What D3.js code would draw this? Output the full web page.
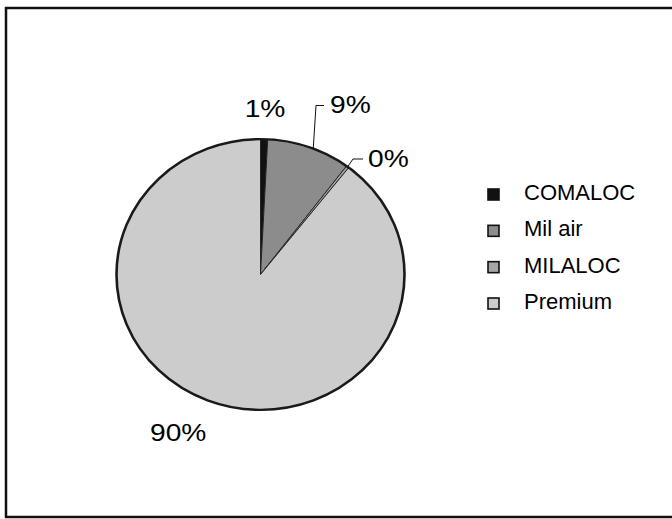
<!DOCTYPE html>
<html>
<head>
<meta charset="utf-8">
<script src="https://cdn.jsdelivr.net/npm/d3@7"></script>
<style>
  body { margin: 0; background: #fff; }
  text { font-family: "Liberation Sans", Arial, sans-serif; fill: #000; }
</style>
</head>
<body>
<svg id="chart" width="672" height="519"></svg>
<script>
// data
var categories = ["COMALOC", "Mil air", "MILALOC", "Premium"];
var shares = [0.8, 9.4, 0.3, 89.5];
var labels = ["1%", "9%", "0%", "90%"];
var colors = ["#111111", "#8c8c8c", "#a6a6a6", "#cccccc"];

var svg = d3.select("#chart");

// outer frame
svg.append("rect")
  .attr("x", 6).attr("y", 8)
  .attr("width", 700).attr("height", 509)
  .attr("fill", "none")
  .attr("stroke", "#111")
  .attr("stroke-width", 2.5);

var cx = 260.5, cy = 274.5, r = 144, squash = 0.94;

var pie = d3.pie().sort(null).value(function(d) { return d; });
var arcs = pie(shares);
var arc = d3.arc().innerRadius(0).outerRadius(r);

var g = svg.append("g")
  .attr("transform", `translate(${cx},${cy}) scale(1,${squash})`);

g.selectAll(".slice")
  .data(arcs)
  .enter()
  .append("path")
  .attr("class", "slice")
  .attr("d", arc)
  .attr("fill", function(d, i) { return colors[i]; })
  .attr("stroke", "#222")
  .attr("stroke-width", 1)
  .attr("stroke-linejoin", "round");

g.append("circle")
  .attr("r", r)
  .attr("fill", "none")
  .attr("stroke", "#1a1a1a")
  .attr("stroke-width", 2.6);

// point on the rim for a slice, at fraction t across it
function rim(d, t) {
  var a = d.startAngle + (d.endAngle - d.startAngle) * t;
  return [cx + Math.sin(a) * r, cy - Math.cos(a) * r * squash];
}

// leader lines for the two small labels
var p9 = rim(arcs[1], 0.55);
var p0 = rim(arcs[2], 0.5);
var leaders = [
  [p9, [316, 105.5], [324, 105.5]],
  [p0, [353, 159], [363, 159]]
];
svg.selectAll(".leader")
  .data(leaders)
  .enter()
  .append("polyline")
  .attr("class", "leader")
  .attr("points", function(d) { return d.map(function(p) { return p.join(","); }).join(" "); })
  .attr("fill", "none")
  .attr("stroke", "#111")
  .attr("stroke-width", 1);

// label anchor points; the source text is a little wider than Arial
var labelPos = [[265, 117, "middle"], [330, 112.5, "start"], [368, 167, "start"], [150, 441, "start"]];
svg.selectAll(".pct")
  .data(labels)
  .enter()
  .append("text")
  .attr("class", "pct")
  .attr("transform", function(d, i) { return `translate(${labelPos[i][0]},${labelPos[i][1]}) scale(1.15,1)`; })
  .attr("text-anchor", function(d, i) { return labelPos[i][2]; })
  .style("font-size", "24.5px")
  .text(function(d) { return d; });

// legend
var legendY = d3.scalePoint().domain(categories).range([200, 309]);
var legend = svg.append("g").attr("class", "legend");
var item = legend.selectAll(".item")
  .data(categories)
  .enter()
  .append("g")
  .attr("class", "item")
  .attr("transform", function(d) { return `translate(0,${legendY(d)})`; });

item.append("rect")
  .attr("x", 488).attr("y", -11)
  .attr("width", 11).attr("height", 11)
  .attr("fill", function(d, i) { return colors[i]; })
  .attr("stroke", "#111")
  .attr("stroke-width", 1.6);

item.append("text")
  .attr("x", 524).attr("y", 0)
  .style("font-size", "22px")
  .text(function(d) { return d; });
</script>
</body>
</html>
